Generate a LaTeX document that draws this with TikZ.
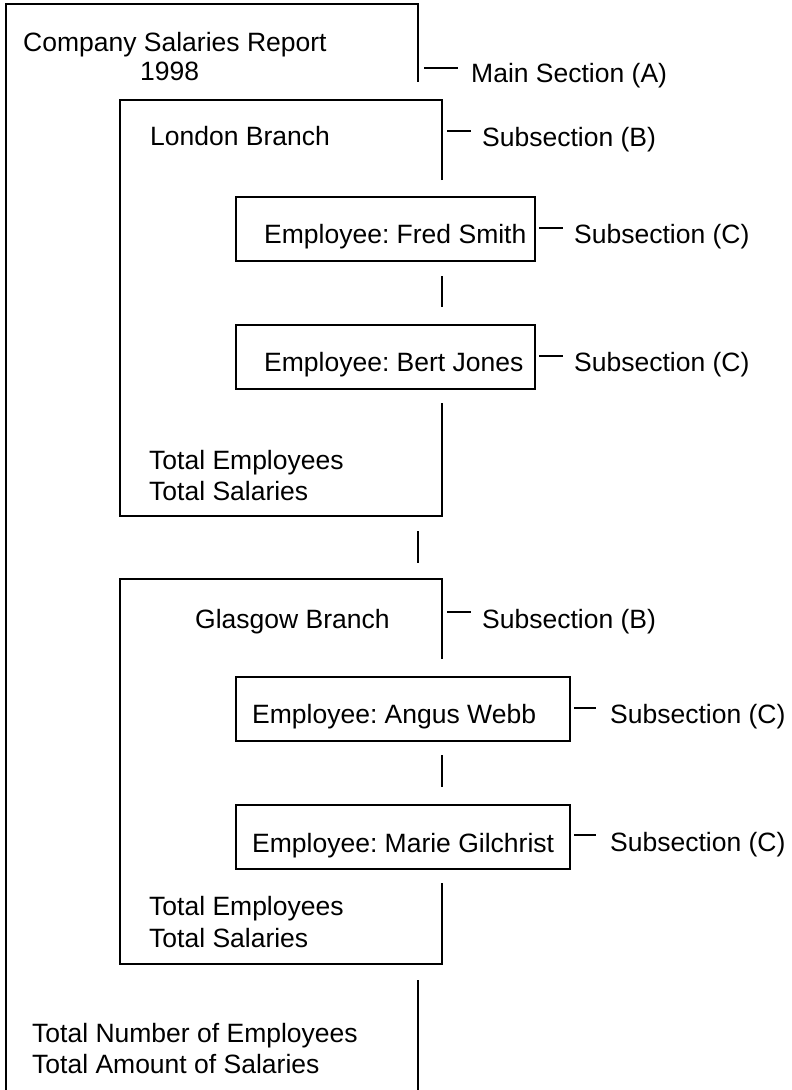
\documentclass[tikz,border=0pt]{standalone}
\usepackage{fontspec}
\setmainfont{Liberation Sans}
\frenchspacing
\begin{document}
\begin{tikzpicture}[x=1pt,y=-1pt,
  boxline/.style={line width=2pt},
  conn/.style={line width=1.6pt},
  tick/.style={line width=1.4pt},
  txt/.style={anchor=base west,inner sep=0pt,font=\fontsize{26.5}{30}\selectfont},
  empbox/.style={draw,line width=2pt,anchor=north west,minimum width=#1,minimum height=64pt,inner sep=0pt},
]
\useasboundingbox (0,0) rectangle (792,1090);

% ---------- main section (A) ----------
\coordinate (mBL) at (6,1090);
\coordinate (mTL) at (6,4);
\coordinate (mTR) at (418,4);
\coordinate (mR1) at (418,82);
\draw[boxline] (mBL) -- (mTL) -- (mTR) -- (mR1);
\node[txt] (title) at (23,51) {Company Salaries Report};
\node[txt] (year) at (140,80) {1998};
\coordinate (mDa) at (424,68);
\coordinate (mDb) at (458,68);
\draw[tick] (mDa) -- (mDb);
\node[txt] (labA) at (471,82) {Main Section (A)};

% ---------- London branch (B) ----------
\coordinate (lTL) at (120,100);
\coordinate (lTR) at (442,100);
\coordinate (lR1) at (442,180);
\coordinate (lR2) at (442,403);
\coordinate (lBR) at (442,516);
\coordinate (lBL) at (120,516);
\draw[boxline] (lR1) -- (lTR) -- (lTL) -- (lBL) -- (lBR) -- (lR2);
\node[txt] (london) at (150,145) {London Branch};
\coordinate (lDa) at (447,131);
\coordinate (lDb) at (471,131);
\draw[tick] (lDa) -- (lDb);
\node[txt] (labB1) at (482,146) {Subsection (B)};

\node[empbox=299pt] (fred) at (235,196) {};
\node[txt] (fredt) at (264,243) {Employee: Fred Smith};
\coordinate (fDa) at (539,228);
\coordinate (fDb) at (563,228);
\draw[tick] (fDa) -- (fDb);
\node[txt] (labC1) at (574,243) {Subsection (C)};

\coordinate (c1a) at (442,276);
\coordinate (c1b) at (442,307);
\draw[conn] (c1a) -- (c1b);

\node[empbox=299pt] (bert) at (235,324) {};
\node[txt] (bertt) at (264,371) {Employee: Bert Jones};
\coordinate (bDa) at (539,356);
\coordinate (bDb) at (563,356);
\draw[tick] (bDa) -- (bDb);
\node[txt] (labC2) at (574,371) {Subsection (C)};

\node[txt] (lte) at (149,469) {Total Employees};
\node[txt] (lts) at (149,500) {Total Salaries};

% connector London -> Glasgow
\coordinate (c2a) at (418,531);
\coordinate (c2b) at (418,563);
\draw[conn] (c2a) -- (c2b);

% ---------- Glasgow branch (B) ----------
\coordinate (gTL) at (120,579);
\coordinate (gTR) at (442,579);
\coordinate (gR1) at (442,659);
\coordinate (gR2) at (442,883);
\coordinate (gBR) at (442,964);
\coordinate (gBL) at (120,964);
\draw[boxline] (gR1) -- (gTR) -- (gTL) -- (gBL) -- (gBR) -- (gR2);
\node[txt] (glasgow) at (195,628) {Glasgow Branch};
\coordinate (gDa) at (447,612);
\coordinate (gDb) at (471,612);
\draw[tick] (gDa) -- (gDb);
\node[txt] (labB2) at (482,628) {Subsection (B)};

\node[empbox=334pt] (angus) at (235,676) {};
\node[txt] (angust) at (252,723) {Employee: Angus Webb};
\coordinate (aDa) at (574,708);
\coordinate (aDb) at (596,708);
\draw[tick] (aDa) -- (aDb);
\node[txt] (labC3) at (610,723) {Subsection (C)};

\coordinate (c3a) at (442,755);
\coordinate (c3b) at (442,787);
\draw[conn] (c3a) -- (c3b);

\node[empbox=334pt] (marie) at (235,804) {};
\node[txt] (mariet) at (252,852) {Employee: Marie Gilchrist};
\coordinate (gcDa) at (574,835);
\coordinate (gcDb) at (596,835);
\draw[tick] (gcDa) -- (gcDb);
\node[txt] (labC4) at (610,851) {Subsection (C)};

\node[txt] (gte) at (149,915) {Total Employees};
\node[txt] (gts) at (149,947) {Total Salaries};

% final part of main section
\coordinate (c4a) at (418,980);
\coordinate (c4b) at (418,1090);
\draw[conn] (c4a) -- (c4b);

\node[txt] (tne) at (32,1042) {Total Number of Employees};
\node[txt] (tas) at (32,1073) {Total Amount of Salaries};
\end{tikzpicture}
\end{document}
